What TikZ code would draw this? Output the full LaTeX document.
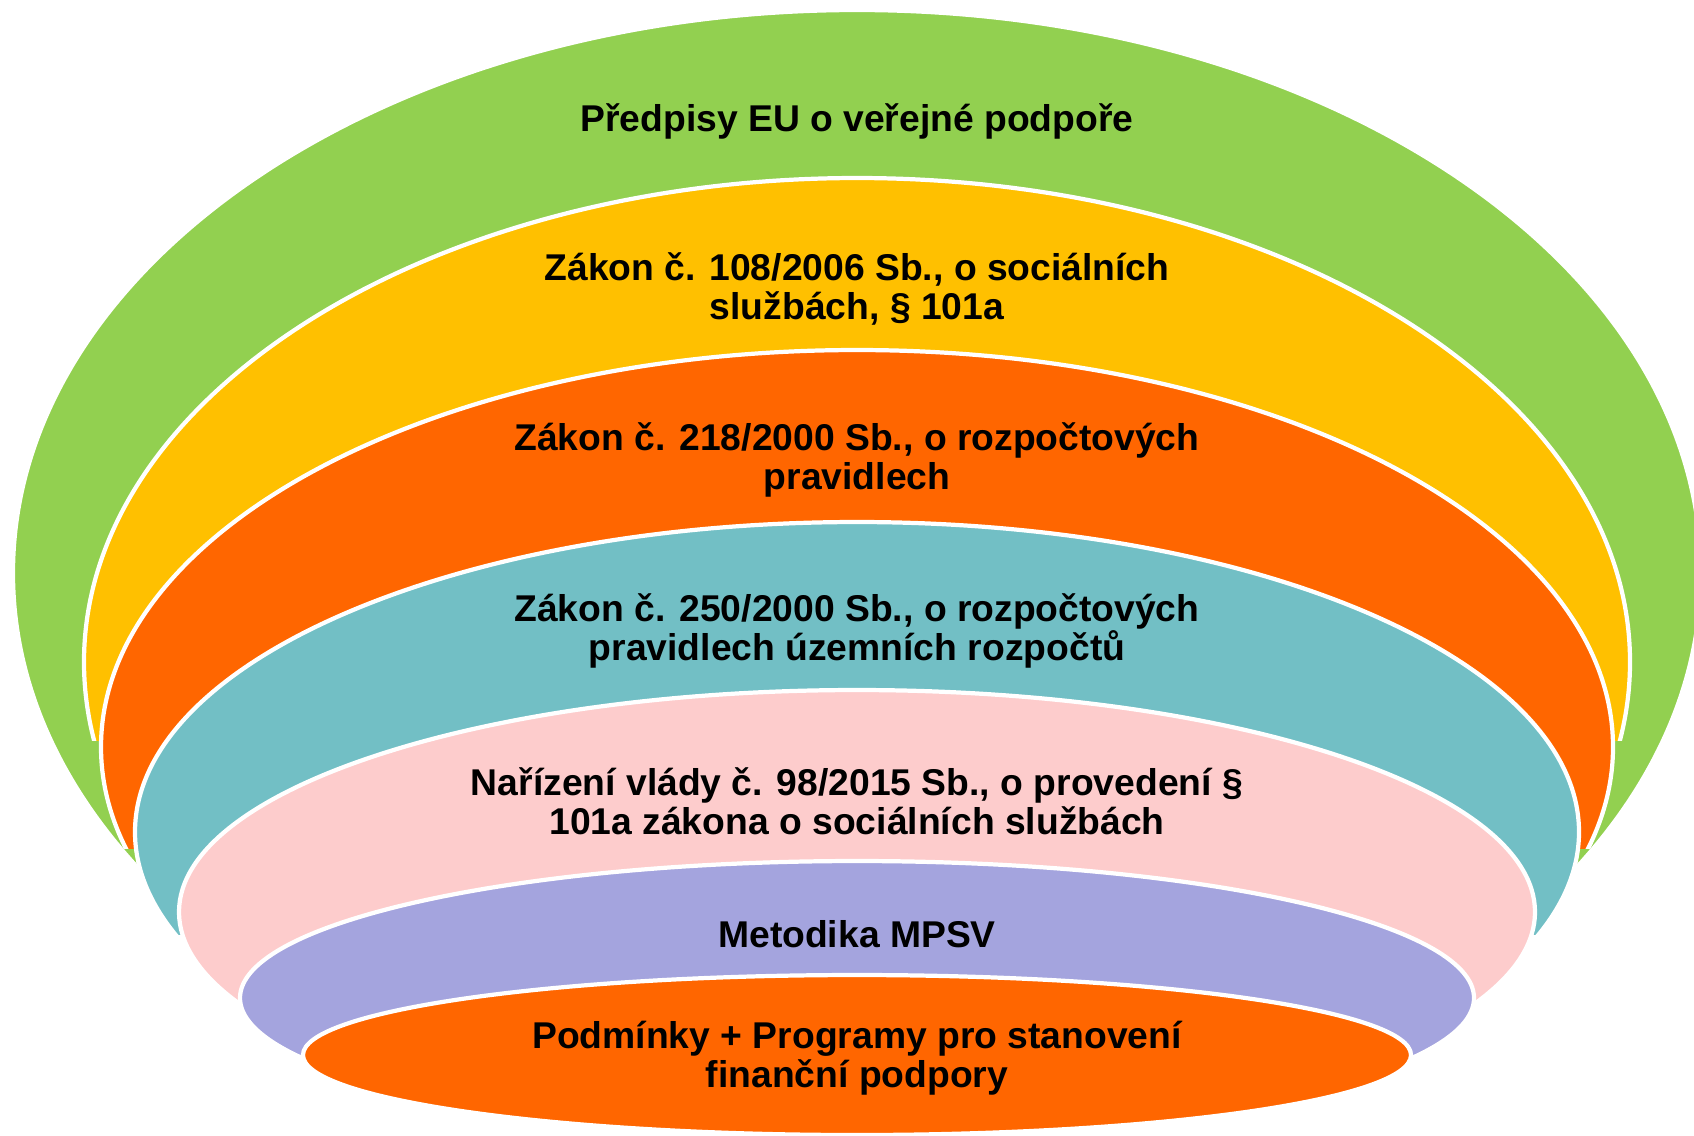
\documentclass[tikz,border=0pt]{standalone}
\usepackage{fontspec}
\setmainfont{Liberation Sans}
\usepackage{xcolor}
\usepackage{tikz}

\definecolor{cGreen}{HTML}{92D050}
\definecolor{cYellow}{HTML}{FFC000}
\definecolor{cOrange}{HTML}{FF6600}
\definecolor{cTeal}{HTML}{72BFC5}
\definecolor{cPink}{HTML}{FDCCCC}
\definecolor{cPurple}{HTML}{A4A4DE}

\begin{document}
\begin{tikzpicture}[x=0.01cm,y=-0.01cm,
        layer/.style={draw=white, line width=1.2pt},
        every node/.style={font=\bfseries\fontsize{10.6}{11.1}\selectfont, align=center, text=black}]
        \useasboundingbox (0,0) rectangle (1694,1135);

        \begin{scope}
            \clip (0,0) rectangle (1694,865);
            \filldraw[layer, fill=cGreen] (857,573) ellipse [x radius=844, y radius=563];
        \end{scope}

        \begin{scope}
            \clip (0,0) rectangle (1694,740);
            \filldraw[layer, fill=cYellow] (857,662) ellipse [x radius=773, y radius=484];
        \end{scope}

        \begin{scope}
            \clip (0,0) rectangle (1694,848);
            \filldraw[layer, fill=cOrange] (857,747) ellipse [x radius=756, y radius=397];
        \end{scope}

        \begin{scope}
            \clip (0,0) rectangle (1694,934);
            \filldraw[layer, fill=cTeal] (857,832) ellipse [x radius=722, y radius=310];
        \end{scope}

        \begin{scope}
            \clip (0,0) rectangle (1694,1004);
            \filldraw[layer, fill=cPink] (857,912) ellipse [x radius=678, y radius=222];
        \end{scope}

        \begin{scope}
            \clip (0,0) rectangle (1694,1057);
            \filldraw[layer, fill=cPurple] (857,998) ellipse [x radius=617, y radius=137];
        \end{scope}

        \filldraw[layer, fill=cOrange] (857,1055) ellipse [x radius=554, y radius=80];

        \node (tEU) at (857,121) {Předpisy EU o veřejné podpoře};
        \node (tSoc) at (857,289) {Zákon č. 108/2006 Sb., o sociálních\\službách, § 101a};
        \node (tRozp) at (857,460) {Zákon č. 218/2000 Sb., o rozpočtových\\pravidlech};
        \node (tUzem) at (857,631) {Zákon č. 250/2000 Sb., o rozpočtových\\pravidlech územních rozpočtů};
        \node (tNar) at (857,801) {Nařízení vlády č. 98/2015 Sb., o provedení §\\101a zákona o sociálních službách};
        \node (tMet) at (857,934) {Metodika MPSV};
        \node (tPodm) at (857,1058) {Podmínky + Programy pro stanovení\\finanční podpory};
    \end{tikzpicture}
\end{document}
